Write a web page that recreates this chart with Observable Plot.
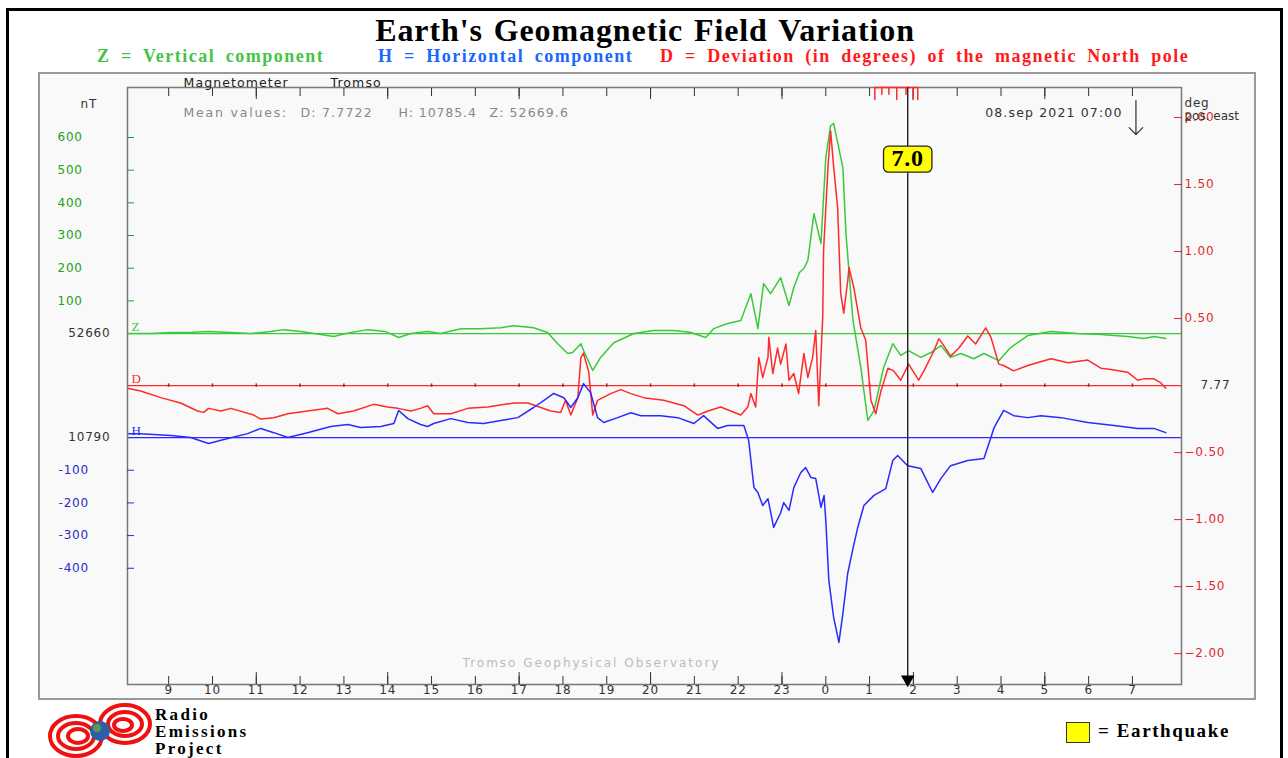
<!DOCTYPE html>
<html><head><meta charset="utf-8">
<script src="https://cdn.jsdelivr.net/npm/d3@7"></script>
<script src="https://cdn.jsdelivr.net/npm/@observablehq/plot@0.6"></script>
<style>
html,body{margin:0;padding:0;background:#fff;}
body{width:1288px;height:758px;overflow:hidden;position:relative;font-family:"Liberation Serif",serif;}
#outer{position:absolute;left:6px;top:8px;width:1277px;height:770px;border:3px solid #000;box-sizing:border-box;}
#title{position:absolute;left:0;top:12px;width:1290px;text-align:center;font:bold 32px "Liberation Serif";letter-spacing:0.9px;word-spacing:2px;color:#000;}
.sub{position:absolute;top:46px;font:bold 18px "Liberation Serif";white-space:pre;letter-spacing:1.5px;word-spacing:4.5px;}
#panel{position:absolute;left:38px;top:72px;border:2px solid #999;background:#f9f9f9;width:1214px;height:624px;}
#panel svg{display:block;}
#logoText{position:absolute;left:155px;top:706px;font:bold 17px/17px "Liberation Serif";letter-spacing:2.3px;color:#000;}
#legend{position:absolute;left:1066px;top:720px;font:bold 19px "Liberation Serif";letter-spacing:1.6px;white-space:nowrap;}
#legend span.box{display:inline-block;width:22px;height:19px;background:#ffff00;border:1.5px solid #333;vertical-align:middle;margin-right:8px;}
</style></head>
<body>
<div id="outer"></div>
<div id="title">Earth's Geomagnetic Field Variation</div>
<div class="sub" style="left:97px;color:#44c444">Z = Vertical component</div>
<div class="sub" style="left:378px;color:#1a66ff">H = Horizontal component</div>
<div class="sub" style="left:660px;color:#ff1a1a">D = Deviation (in degrees) of the magnetic North pole</div>
<div id="panel"></div>
<svg style="position:absolute;left:45px;top:700px" width="110" height="58">
  <g fill="none" stroke="#ee1111" stroke-width="4">
    <ellipse cx="31" cy="36" rx="26" ry="20"/>
    <ellipse cx="31" cy="36" rx="18" ry="13"/>
    <ellipse cx="33" cy="36" rx="10" ry="7"/>
    <ellipse cx="80" cy="24" rx="25" ry="19"/>
    <ellipse cx="80" cy="24" rx="17" ry="12"/>
    <ellipse cx="78" cy="25" rx="9" ry="6"/>
  </g>
  <circle cx="55" cy="31" r="10" fill="#2b5fa8"/>
  <circle cx="52" cy="28" r="4" fill="#5a9a4a"/>
</svg>
<div id="logoText">Radio<br>Emissions<br>Project</div>
<div id="legend"><span class="box"></span>= Earthquake</div>
<script>
// ---- data (deviations from the baseline values) ----
const zBase = "52660", hBase = "10790", dBase = "7.77";
// Z: vertical component deviation, nT  [hour since 00:00 on 07 Sep, nT]
const zData = [[8.06,0],[8.59,0],[9.05,3],[9.50,3],[9.89,6],[10.42,3],[10.87,0],[11.33,6],[11.63,12],[12.01,6],[12.47,-3],[12.77,-9],[13.04,0],[13.54,12],[13.95,6],[14.25,-12],[14.53,0],[14.91,6],[15.21,0],[15.67,15],[16.12,15],[16.58,18],[16.88,24],[17.33,18],[17.65,3],[17.88,-31],[18.11,-61],[18.22,-58],[18.41,-31],[18.47,-52],[18.68,-113],[18.86,-73],[19.16,-28],[19.62,0],[20.07,9],[20.53,9],[20.92,3],[21.26,-12],[21.44,15],[21.76,31],[22.06,40],[22.29,122],[22.45,15],[22.58,153],[22.74,122],[22.97,171],[23.16,86],[23.27,141],[23.40,187],[23.50,199],[23.59,223],[23.73,367],[23.89,275],[24.00,539],[24.11,636],[24.18,643],[24.39,508],[24.46,306],[24.62,40],[24.80,-104],[24.96,-266],[25.10,-236],[25.32,-104],[25.53,-31],[25.71,-67],[25.89,-52],[26.17,-73],[26.40,-58],[26.63,-37],[26.85,-73],[27.08,-61],[27.38,-77],[27.61,-61],[27.95,-83],[28.22,-43],[28.61,-6],[29.14,6],[29.75,0],[30.28,-3],[30.89,-9],[31.26,-15],[31.49,-9],[31.76,-15]];
// H: horizontal component deviation, nT
const hData = [[8.06,12],[8.36,12],[9.05,6],[9.50,0],[9.91,-18],[10.35,-3],[10.80,12],[11.10,28],[11.40,15],[11.72,0],[12.17,15],[12.70,34],[13.09,40],[13.38,31],[13.84,34],[14.14,43],[14.25,83],[14.46,58],[14.75,40],[14.91,34],[15.05,43],[15.44,58],[15.83,46],[16.19,43],[16.58,52],[16.97,61],[17.33,92],[17.56,113],[17.79,135],[18.02,122],[18.18,92],[18.34,122],[18.47,165],[18.63,138],[18.79,61],[18.93,46],[19.25,61],[19.55,76],[19.78,67],[20.23,67],[20.62,61],[20.99,43],[21.21,67],[21.53,28],[21.76,37],[22.13,37],[22.24,-9],[22.36,-153],[22.45,-168],[22.56,-208],[22.68,-187],[22.81,-275],[22.97,-230],[23.04,-199],[23.16,-223],[23.27,-153],[23.43,-107],[23.54,-92],[23.66,-122],[23.77,-125],[23.89,-214],[23.96,-177],[24.00,-254],[24.07,-438],[24.18,-551],[24.30,-627],[24.39,-539],[24.50,-416],[24.62,-340],[24.73,-275],[24.87,-208],[25.10,-177],[25.37,-156],[25.53,-70],[25.64,-55],[25.87,-86],[26.17,-95],[26.44,-168],[26.63,-125],[26.85,-86],[27.24,-70],[27.61,-64],[27.77,0],[27.84,30],[28.06,83],[28.29,67],[28.61,61],[28.91,67],[29.37,61],[29.98,46],[30.58,37],[31.12,28],[31.49,28],[31.76,15]];
// D: declination deviation, degrees
const dData = [[8.06,-0.02],[8.36,-0.04],[8.82,-0.09],[9.27,-0.13],[9.66,-0.19],[9.80,-0.20],[9.91,-0.17],[10.19,-0.19],[10.42,-0.17],[10.94,-0.22],[11.10,-0.25],[11.40,-0.24],[11.72,-0.21],[12.17,-0.19],[12.63,-0.17],[12.86,-0.21],[13.22,-0.19],[13.68,-0.14],[14.00,-0.16],[14.23,-0.17],[14.53,-0.19],[14.75,-0.17],[14.91,-0.15],[15.05,-0.21],[15.44,-0.21],[15.83,-0.17],[16.28,-0.16],[16.88,-0.13],[17.20,-0.13],[17.72,-0.19],[17.95,-0.20],[18.06,-0.11],[18.18,-0.22],[18.34,-0.09],[18.41,0.21],[18.47,0.24],[18.59,0.10],[18.68,-0.22],[18.79,-0.11],[19.09,-0.06],[19.32,-0.03],[19.55,-0.06],[19.84,-0.09],[20.30,-0.11],[20.76,-0.15],[21.08,-0.22],[21.31,-0.19],[21.60,-0.16],[22.06,-0.22],[22.22,-0.16],[22.29,-0.06],[22.40,-0.16],[22.47,0.21],[22.56,0.06],[22.68,0.21],[22.70,0.36],[22.79,0.09],[22.90,0.28],[22.97,0.16],[23.09,0.31],[23.16,0.04],[23.27,0.09],[23.38,-0.06],[23.50,0.24],[23.59,0.06],[23.70,0.21],[23.77,0.41],[23.84,-0.15],[23.93,0.51],[23.95,1.01],[24.05,1.63],[24.11,1.90],[24.18,1.63],[24.27,1.33],[24.34,0.69],[24.41,0.54],[24.50,0.78],[24.53,0.88],[24.64,0.73],[24.80,0.43],[24.91,0.34],[25.03,-0.11],[25.14,-0.21],[25.26,-0.04],[25.42,0.13],[25.55,0.11],[25.71,0.04],[25.89,0.16],[26.12,0.04],[26.24,0.11],[26.47,0.26],[26.58,0.35],[26.69,0.30],[26.85,0.22],[27.04,0.28],[27.24,0.37],[27.42,0.31],[27.65,0.43],[27.77,0.36],[27.95,0.16],[28.06,0.15],[28.29,0.11],[28.61,0.15],[29.14,0.20],[29.53,0.17],[29.98,0.19],[30.28,0.13],[30.51,0.12],[30.89,0.10],[31.12,0.04],[31.26,0.05],[31.49,0.05],[31.65,0.02],[31.76,-0.02]];
const quakes = [{time: 25.87, mag: "7.0"}];
const redTopTicks = [25.12, 25.28, 25.44, 25.62, 25.83, 25.99, 26.10];
const redTopLengths = [9, 5, 5, 9, 5, 9, 9];
const nowTime = [31.08];
const hourTicks = d3.range(9, 32);
const longHourTicks = [11, 14, 17, 20, 23, 26, 29];
const zTicks = [100, 200, 300, 400, 500, 600];
const hTicks = [-100, -200, -300, -400];
const dTicks = [2, 1.5, 1, 0.5, -0.5, -1, -1.5, -2];
const stationTexts = ["Magnetometer", "Tromso"];
const meanTexts = ["Mean values:", "D: 7.7722", "H: 10785.4", "Z: 52669.6"];
const dateText = "08.sep 2021 07:00";
const observatoryText = "Tromso Geophysical Observatory";

// ---- layout of the three stacked traces on one vertical scale (units: nT from Z baseline) ----
const hOff = -318.3, dOff = -159.2, dScale = 410.2;
const GREEN = "#3cc83c", BLUE = "#2a2aff", RED = "#ff2a2a";
const yTop = 753, yBot = -1074;
const lineShape = {draw(ctx, l) { ctx.moveTo(0, 0); ctx.lineTo(0, -l); }};
const hdr = {frameAnchor: "top-left", textAnchor: "start", fontSize: 12.5};

const plot = Plot.plot({
  width: 1214, height: 624,
  marginLeft: 87, marginRight: 73, marginTop: 13, marginBottom: 14,
  style: {background: "transparent", fontFamily: "DejaVu Sans", fontSize: "12px", letterSpacing: "0.8px", overflow: "visible"},
  x: {domain: [8.06, 32.12], axis: null},
  y: {domain: [yBot, yTop], axis: null},
  marks: [
    Plot.ruleY([0], {stroke: GREEN, strokeWidth: 1.3}),
    Plot.ruleY([dOff], {stroke: RED, strokeWidth: 1.3}),
    Plot.ruleY([hOff], {stroke: BLUE, strokeWidth: 1.3}),
    Plot.ruleX(hourTicks, {x: d => d, y1: dOff - 5, y2: dOff + 5, stroke: "#a02a2a", strokeWidth: 1.6}),
    Plot.line(zData, {x: d => d[0], y: d => d[1], stroke: GREEN, strokeWidth: 1.5}),
    Plot.line(dData, {x: d => d[0], y: d => dOff + d[1] * dScale, stroke: RED, strokeWidth: 1.5}),
    Plot.line(hData, {x: d => d[0], y: d => hOff + d[1], stroke: BLUE, strokeWidth: 1.5}),
    Plot.frame({stroke: "#777", strokeWidth: 1.5}),
    // axes
    Plot.axisY(zTicks, {anchor: "left", tickSize: -7, tickPadding: 77, textAnchor: "start", color: "#22a022", label: null}),
    Plot.axisY(hTicks.map(v => hOff + v), {anchor: "left", tickSize: -7, tickPadding: 76, textAnchor: "start", color: "#2a2acc", label: null, tickFormat: v => String(Math.round(v - hOff))}),
    Plot.axisY(dTicks.map(k => dOff + k * dScale), {anchor: "right", tickSize: -8, tickPadding: 11, color: "#e02a2a", label: null, tickFormat: v => ((v - dOff) / dScale).toFixed(2).replace("-", "\u2212")}),
    Plot.axisX(hourTicks, {anchor: "bottom", tickSize: -8, tickPadding: 9, color: "#333", label: null, tickFormat: d => d % 24}),
    Plot.axisX(longHourTicks, {anchor: "bottom", tickSize: -12, color: "#333", label: null, tickFormat: () => ""}),
    Plot.axisX(hourTicks, {anchor: "top", tickSize: -8, color: "#333", label: null, tickFormat: () => ""}),
    Plot.axisX(longHourTicks, {anchor: "top", tickSize: -11, color: "#333", label: null, tickFormat: () => ""}),
    // baseline names and values
    Plot.text([{t: "Z", v: 0, c: GREEN}, {t: "D", v: dOff, c: RED}, {t: "H", v: hOff, c: BLUE}], {y: "v", text: "t", fill: "c", frameAnchor: "left", dx: 4, dy: -7, textAnchor: "start", fontFamily: "Liberation Serif", fontSize: 13}),
    Plot.text([{t: zBase, v: 0}, {t: hBase, v: hOff}], {y: "v", text: "t", frameAnchor: "left", dx: -17, textAnchor: "end", fill: "#333"}),
    Plot.text([{t: dBase, v: dOff}], {y: "v", text: "t", frameAnchor: "right", dx: 19, textAnchor: "start", fill: "#333"}),
    // header texts
    Plot.text(["nT"], {frameAnchor: "top-left", textAnchor: "start", dx: -47, dy: 12, fill: "#333"}),
    Plot.text(["deg"], {frameAnchor: "top-right", dx: 3, dy: 11, textAnchor: "start", fill: "#333"}),
    Plot.text(["pos. east"], {frameAnchor: "top-right", dx: 3, dy: 24, textAnchor: "start", fill: "#333"}),
    Plot.text([stationTexts[0]], {...hdr, dx: 56, dy: -9, fill: "#222"}),
    Plot.text([stationTexts[1]], {...hdr, dx: 203, dy: -9, fill: "#222"}),
    Plot.text([meanTexts[0]], {...hdr, dx: 56, dy: 21, fill: "#888"}),
    Plot.text([meanTexts[1]], {...hdr, dx: 173, dy: 21, fill: "#888"}),
    Plot.text([meanTexts[2]], {...hdr, dx: 271, dy: 21, fill: "#888"}),
    Plot.text([meanTexts[3]], {...hdr, dx: 362, dy: 21, fill: "#888"}),
    Plot.text([dateText], {frameAnchor: "top-right", dx: -59, dy: 21, textAnchor: "end", fill: "#333", fontSize: 12.5}),
    Plot.text([observatoryText], {frameAnchor: "bottom", dx: -63, dy: -18, fill: "#bbb"}),
    // events
    Plot.ruleY([yTop], {x1: redTopTicks[0], x2: redTopTicks[redTopTicks.length - 1], stroke: RED, strokeWidth: 1.5}),
    Plot.vector(redTopTicks, {x: d => d, frameAnchor: "top", length: (d, i) => redTopLengths[i], rotate: 180, anchor: "start", shape: lineShape, stroke: RED, strokeWidth: 1.5}),
    Plot.vector(nowTime, {x: d => d, frameAnchor: "top", dy: 13, length: 34, rotate: 180, anchor: "start", stroke: "#333", strokeWidth: 1.2}),
    Plot.ruleX(quakes, {x: "time", stroke: "#222", strokeWidth: 1.4}),
    Plot.dot(quakes, {x: "time", frameAnchor: "bottom", dy: -5, symbol: "triangle", rotate: 180, r: 5, fill: "#000", stroke: "none"}),
    Plot.text(quakes, {x: "time", frameAnchor: "top", dy: 71, lineAnchor: "middle", text: "mag", fontSize: 24, fontWeight: "bold", fontFamily: "Liberation Serif", fill: "#000"})
  ]
});
document.getElementById("panel").appendChild(plot);

// letter spacing of the wide pixel-font header texts
const spacing = new Map([
  [stationTexts[0], "1.1px"], [stationTexts[1], "1.1px"],
  [meanTexts[0], "1.8px"], [meanTexts[1], "1.2px"], [meanTexts[2], "0.9px"], [meanTexts[3], "1.1px"],
  [dateText, "1.15px"], [observatoryText, "2px"], ["pos. east", "0px"]
]);
d3.select(plot).selectAll("text").each(function() {
  const s = spacing.get(this.textContent);
  if (s) this.style.letterSpacing = s;
});
// yellow rounded box behind the earthquake magnitude label
d3.select(plot).selectAll("text").filter(function() { return quakes.some(q => q.mag === this.textContent); }).each(function() {
  const b = this.getBBox();
  d3.select(this.parentNode).insert("rect", () => this)
    .attr("x", b.x - 8).attr("y", b.y + 1).attr("width", b.width + 16).attr("height", b.height)
    .attr("rx", 5).attr("fill", "#ffff00").attr("stroke", "#222").attr("stroke-width", 1.3)
    .attr("transform", this.getAttribute("transform"));
});
</script>
</body></html>
